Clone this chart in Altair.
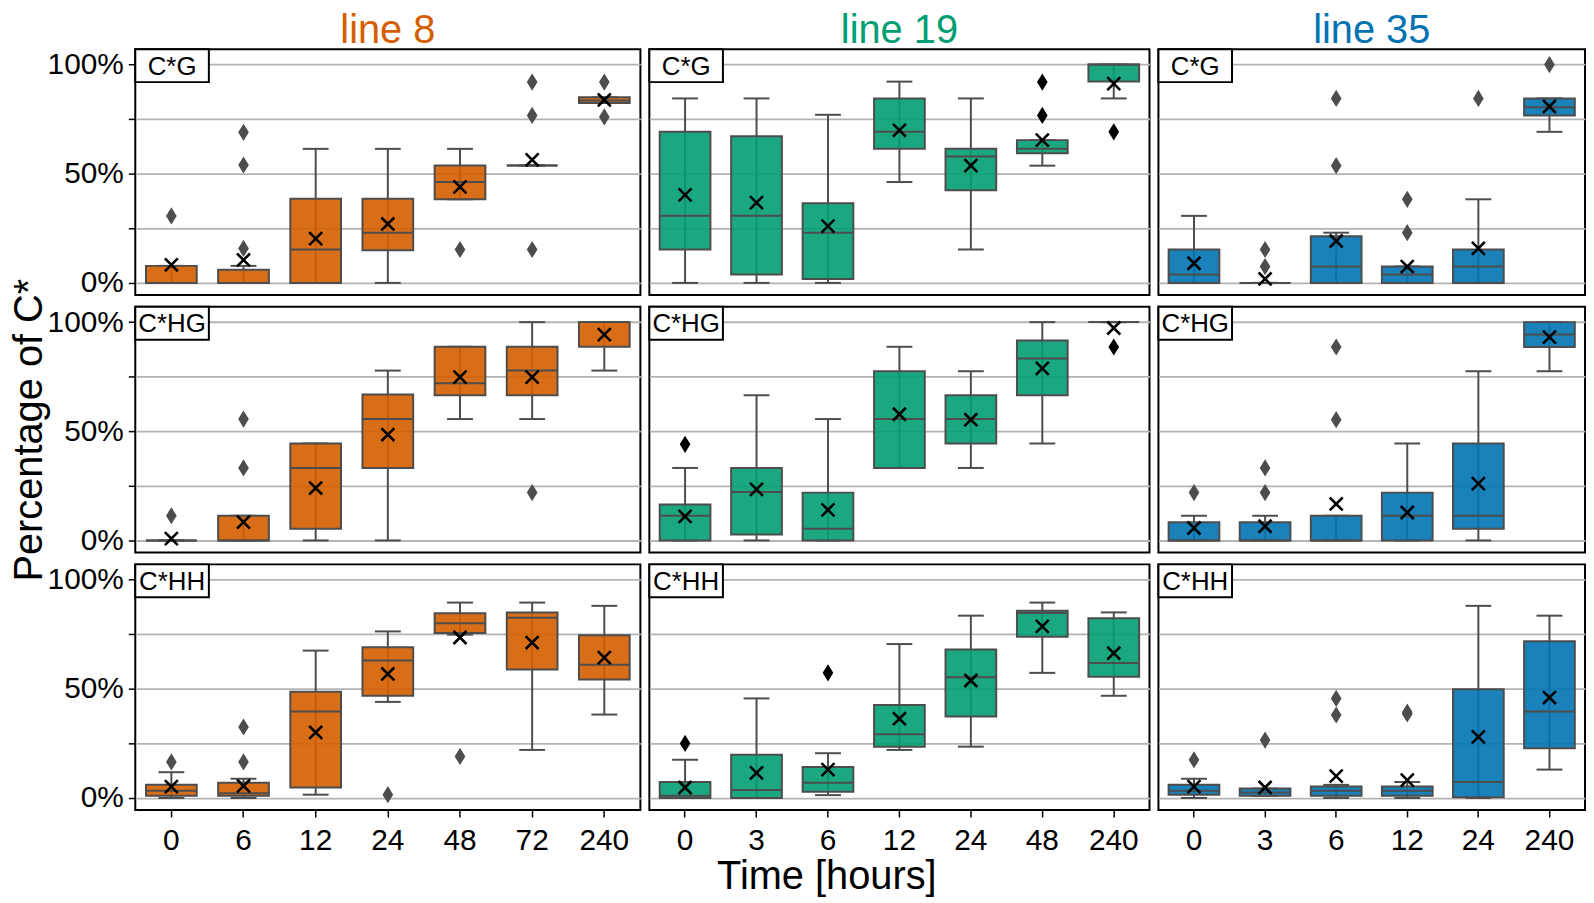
import altair as alt
import pandas as pd

FONT = "Liberation Sans"
EDGE = "#4d4d4d"
GRID = "#b4b4b4"

LINES = ["line 8", "line 19", "line 35"]
GROUPS = ["C*G", "C*HG", "C*HH"]
TITLE_COLORS = ["#D55E00", "#029E73", "#0173B2"]
OUTLIER_COLORS = ["#4d4d4d", "#000000", "#4d4d4d"]

CATS_L8 = ["0", "6", "12", "24", "48", "72", "240"]
CATS_L19 = ["0", "3", "6", "12", "24", "48", "240"]
CATS_L35 = ["0", "3", "6", "12", "24", "240"]

# ---------------- line 8 ----------------
l8_g_q1 = [0, 0, 0, 15.0, 38.3, 53.8, 82.4]
l8_g_med = [0, 0, 15.3, 23.0, 46.2, 53.8, 83.5]
l8_g_q3 = [7.8, 6.0, 38.6, 38.6, 53.8, 53.8, 85.0]
l8_g_lo = [0, 0, 0, 0, 38.3, 53.8, 82.4]
l8_g_hi = [7.8, 7.8, 61.4, 61.4, 61.4, 53.8, 85.0]
l8_g_mean = [8.3, 10.5, 20.3, 27.0, 44.0, 56.4, 83.8]
l8_g_out = [[30.7], [69.0, 54.0, 15.8], [], [], [15.3], [92.0, 76.7, 15.3], [92.0, 76.0]]

l8_hg_q1 = [0, 0, 5.3, 33.2, 66.5, 66.5, 88.7]
l8_hg_med = [0, 0, 33.2, 55.6, 72.0, 77.8, 100]
l8_hg_q3 = [0, 11.3, 44.4, 66.8, 88.7, 88.7, 100]
l8_hg_lo = [0, 0, 0, 0, 55.6, 55.6, 77.8]
l8_hg_hi = [0, 11.3, 44.4, 77.8, 88.7, 100, 100]
l8_hg_mean = [0.8, 8.4, 24.0, 48.5, 74.8, 74.8, 94.3]
l8_hg_out = [[11.3], [55.6, 33.2], [], [], [], [21.9], []]

l8_hh_q1 = [1.0, 1.0, 4.8, 46.8, 75.6, 58.8, 54.3]
l8_hh_med = [3.3, 2.2, 39.6, 63.0, 80.0, 82.5, 61.0]
l8_hh_q3 = [6.0, 7.0, 48.6, 69.0, 84.6, 85.0, 74.5]
l8_hh_lo = [0, 0, 1.5, 44.0, 74.8, 22.0, 38.2]
l8_hh_hi = [11.8, 8.8, 67.5, 76.3, 89.5, 89.5, 88.0]
l8_hh_mean = [5.2, 5.5, 30.0, 56.8, 73.5, 71.2, 64.3]
l8_hh_out = [[16.5], [32.5, 16.5], [], [1.5], [19.0], [], []]

# ---------------- line 19 ----------------
l19_g_q1 = [15.3, 3.8, 1.8, 61.4, 42.4, 59.4, 92.2]
l19_g_med = [30.8, 30.8, 23.0, 69.2, 57.9, 61.4, 100]
l19_g_q3 = [69.2, 67.2, 36.5, 84.5, 61.4, 65.4, 100]
l19_g_lo = [0, 0, 0, 46.2, 15.3, 53.7, 84.5]
l19_g_hi = [84.5, 84.5, 77.0, 92.2, 84.5, 65.4, 100]
l19_g_mean = [40.3, 36.8, 26.0, 69.9, 53.7, 65.4, 91.3]
l19_g_out = [[], [], [], [], [], [92.0, 76.7], [69.2]]

l19_hg_q1 = [0, 2.7, 0, 33.2, 44.4, 66.5, 100]
l19_hg_med = [11.3, 22.2, 5.3, 55.6, 55.6, 83.3, 100]
l19_hg_q3 = [16.5, 33.2, 21.9, 77.5, 66.5, 91.6, 100]
l19_hg_lo = [0, 0, 0, 33.2, 33.2, 44.4, 100]
l19_hg_hi = [33.2, 66.5, 55.6, 88.7, 77.5, 100, 100]
l19_hg_mean = [11.0, 23.4, 14.0, 57.8, 55.3, 78.8, 97.3]
l19_hg_out = [[44.0], [], [], [], [], [], [88.6]]

l19_hh_q1 = [0, 0, 2.8, 23.5, 37.3, 73.8, 55.5]
l19_hh_med = [1.0, 3.7, 7.0, 29.2, 55.3, 84.7, 61.8]
l19_hh_q3 = [7.3, 19.8, 14.2, 42.6, 68.0, 85.8, 82.3]
l19_hh_lo = [0, 0, 1.3, 22.0, 23.5, 57.3, 46.8]
l19_hh_hi = [17.5, 45.6, 20.5, 70.5, 83.5, 89.5, 85.0]
l19_hh_mean = [4.8, 11.5, 13.0, 36.3, 53.8, 78.6, 66.3]
l19_hh_out = [[25.0], [], [57.3], [], [], [], []]

# ---------------- line 35 ----------------
l35_g_q1 = [0, 0, 0, 0, 0, 76.7]
l35_g_med = [3.8, 0, 7.5, 3.8, 7.5, 80.5]
l35_g_q3 = [15.3, 0, 21.4, 7.5, 15.3, 84.5]
l35_g_lo = [0, 0, 0, 0, 0, 69.2]
l35_g_hi = [30.7, 0, 23.0, 7.5, 38.3, 84.5]
l35_g_mean = [9.0, 1.8, 19.2, 7.5, 15.8, 80.8]
l35_g_out = [[], [15.3, 7.5], [84.5, 53.7], [38.3, 23.0], [84.5], [100]]

l35_hg_q1 = [0, 0, 0, 0, 5.3, 88.6]
l35_hg_med = [0, 0, 0, 11.3, 11.3, 94.3]
l35_hg_q3 = [8.3, 8.3, 11.3, 21.9, 44.4, 100]
l35_hg_lo = [0, 0, 0, 0, 0, 77.5]
l35_hg_hi = [11.3, 11.3, 11.3, 44.4, 77.5, 100]
l35_hg_mean = [5.7, 6.5, 16.7, 12.8, 26.0, 93.1]
l35_hg_out = [[21.9], [33.2, 21.9], [88.6, 55.3], [], [], []]

l35_hh_q1 = [1.5, 1.0, 1.0, 1.0, 0.3, 22.8]
l35_hh_med = [3.3, 2.5, 3.3, 3.3, 7.3, 39.6]
l35_hh_q3 = [6.0, 4.3, 5.2, 5.2, 49.8, 71.8]
l35_hh_lo = [0, 1.0, 0, 0, 0, 13.0]
l35_hh_hi = [8.8, 4.3, 6.0, 7.3, 88.0, 83.5]
l35_hh_mean = [5.2, 4.8, 10.0, 8.2, 28.0, 46.0]
l35_hh_out = [[17.5], [26.5], [45.6, 38.0], [39.3, 38.5], [], []]

CATS = [CATS_L8, CATS_L19, CATS_L35]
STATS = {
    (0, 0): (l8_g_q1, l8_g_med, l8_g_q3, l8_g_lo, l8_g_hi, l8_g_mean, l8_g_out),
    (0, 1): (l8_hg_q1, l8_hg_med, l8_hg_q3, l8_hg_lo, l8_hg_hi, l8_hg_mean, l8_hg_out),
    (0, 2): (l8_hh_q1, l8_hh_med, l8_hh_q3, l8_hh_lo, l8_hh_hi, l8_hh_mean, l8_hh_out),
    (1, 0): (l19_g_q1, l19_g_med, l19_g_q3, l19_g_lo, l19_g_hi, l19_g_mean, l19_g_out),
    (1, 1): (l19_hg_q1, l19_hg_med, l19_hg_q3, l19_hg_lo, l19_hg_hi, l19_hg_mean, l19_hg_out),
    (1, 2): (l19_hh_q1, l19_hh_med, l19_hh_q3, l19_hh_lo, l19_hh_hi, l19_hh_mean, l19_hh_out),
    (2, 0): (l35_g_q1, l35_g_med, l35_g_q3, l35_g_lo, l35_g_hi, l35_g_mean, l35_g_out),
    (2, 1): (l35_hg_q1, l35_hg_med, l35_hg_q3, l35_hg_lo, l35_hg_hi, l35_hg_mean, l35_hg_out),
    (2, 2): (l35_hh_q1, l35_hh_med, l35_hh_q3, l35_hh_lo, l35_hh_hi, l35_hh_mean, l35_hh_out),
}

WIDTHS = [508, 503, 429]
HEIGHT = 247
BOX_W = 51
CAP_W = 26
YDOM = [-5.5, 107]

X_SHAPE = "M-1,-1L1,1M-1,1L1,-1"
DIAMOND = "M0,-1L0.62,0L0,1L-0.62,0Z"


def panel(li, gi):
    cats = CATS[li]
    q1, med, q3, lo, hi, mean, outs = STATS[(li, gi)]
    bdf = pd.DataFrame({"cat": cats, "q1": q1, "med": med, "q3": q3,
                        "lo": lo, "hi": hi, "mean": mean})
    orows = [{"cat": c, "value": v} for c, vs in zip(cats, outs) for v in vs]
    odf = pd.DataFrame(orows, columns=["cat", "value"])

    if gi == 2:
        xkw = dict(labelAngle=0, labelFontSize=30, labelFont=FONT, labelColor="black",
                   tickSize=7, tickWidth=1.5, tickColor="black", labelPadding=9,
                   domain=False, grid=False, titleFontSize=40, titleFont=FONT,
                   titleFontWeight="normal", titleColor="black", titlePadding=1)
        if li == 1:
            xkw["title"] = "Time [hours]"
            xkw["titleX"] = 178
        else:
            xkw["title"] = None
        xaxis = alt.Axis(**xkw)
    else:
        xaxis = None

    if li == 0:
        yaxis = alt.Axis(values=[0, 25, 50, 75, 100],
                         labelExpr="datum.value % 50 == 0 ? datum.value + '%' : ''",
                         labelFontSize=30, labelFont=FONT, labelColor="black",
                         tickSize=7, tickWidth=1.5, tickColor="black", labelPadding=5,
                         domain=False, grid=True, gridColor=GRID, gridWidth=1.8,
                         title="Percentage of C*" if gi == 1 else None,
                         titleFontSize=40, titleFont=FONT,
                         titleFontWeight="normal", titleColor="black", titlePadding=-2,
                         labelFlush=False, labelOverlap=False)
    else:
        yaxis = alt.Axis(values=[0, 25, 50, 75, 100], labels=False, ticks=False,
                         domain=False, grid=True, gridColor=GRID, gridWidth=1.8,
                         title=None, minExtent=0)

    xscale = alt.Scale(domain=cats, paddingInner=0, paddingOuter=0)
    yscale = alt.Scale(domain=YDOM, nice=False, zero=False)

    def X():
        return alt.X("cat:N", sort=cats, scale=xscale, axis=xaxis)

    def Y(f):
        return alt.Y(f + ":Q", scale=yscale, axis=yaxis)

    base = alt.Chart(bdf)
    whisk = base.mark_rule(color=EDGE, strokeWidth=2).encode(x=X(), y=Y("lo"), y2="hi:Q")
    cap_lo = base.mark_tick(color=EDGE, thickness=2, size=CAP_W, opacity=1).encode(x=X(), y=Y("lo"))
    cap_hi = base.mark_tick(color=EDGE, thickness=2, size=CAP_W, opacity=1).encode(x=X(), y=Y("hi"))
    box = base.mark_bar(size=BOX_W, fill=TITLE_COLORS[li], fillOpacity=0.9,
                        stroke=EDGE, strokeWidth=2).encode(x=X(), y=Y("q1"), y2="q3:Q")
    medl = base.mark_tick(color=EDGE, thickness=2, size=BOX_W, opacity=1).encode(x=X(), y=Y("med"))
    outl = alt.Chart(odf).mark_point(shape=DIAMOND, filled=True, size=300,
                                     color=OUTLIER_COLORS[li], opacity=1).encode(x=X(), y=Y("value"))
    meanm = base.mark_point(shape=X_SHAPE, filled=False, size=170, color="black",
                            strokeWidth=2.6, opacity=1).encode(x=X(), y=Y("mean"))

    lab = alt.Chart(pd.DataFrame({"label": [GROUPS[gi]]}))
    lab_box = lab.mark_rect(fill="white", stroke="black", strokeWidth=2).encode(
        x=alt.value(0), x2=alt.value(74), y=alt.value(0), y2=alt.value(33))
    lab_txt = lab.mark_text(font=FONT, fontSize=26, color="black", align="center",
                            baseline="middle").encode(
        x=alt.value(37), y=alt.value(17.5), text="label:N")

    props = dict(width=WIDTHS[li], height=HEIGHT)
    if gi == 0:
        props["title"] = alt.TitleParams(text=LINES[li], color=TITLE_COLORS[li], fontSize=40,
                                         font=FONT, fontWeight="normal", anchor="middle",
                                         frame="group", offset=-3)
    return alt.layer(whisk, cap_lo, cap_hi, box, medl, outl, meanm, lab_box, lab_txt).properties(**props)


panels = [panel(li, gi) for gi in range(3) for li in range(3)]

chart = alt.concat(*panels, columns=3, spacing={"row": 12, "column": 9},
                   bounds="flush", align="each").properties(
    padding=0, background="white"
).configure_view(stroke="black", strokeWidth=2)

chart.save("out.html", embed_options={"renderer": "svg", "actions": False})
